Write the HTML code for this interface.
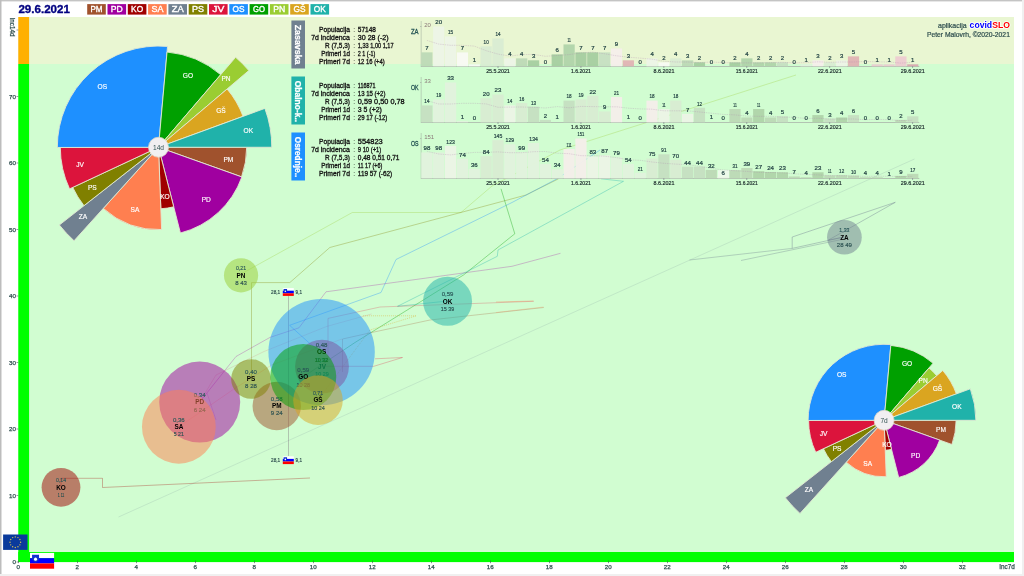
<!DOCTYPE html>
<html><head><meta charset="utf-8"><title>covidSLO</title>
<style>html,body{margin:0;padding:0;background:#fff;}svg{display:block;will-change:transform}text{font-family:"Liberation Sans",sans-serif;}</style>
</head><body>
<svg width="1024" height="576" viewBox="0 0 1024 576">
<rect x="0" y="0" width="1024" height="576" fill="#ffffff"/>
<rect x="18.3" y="17.0" width="995.7" height="47.0" fill="#e9f6d2"/>
<rect x="18.3" y="64" width="995.7" height="498.0" fill="#d1fdd1"/>
<rect x="18.3" y="17.0" width="10.8" height="47.0" fill="#ffb000"/>
<rect x="18.3" y="64" width="10.8" height="498.0" fill="#00ff00"/>
<rect x="18.3" y="552" width="995.7" height="10.1" fill="#00ff00"/>
<rect x="0" y="0" width="1022.5" height="1.4" fill="#c4c4c4"/>
<rect x="0" y="0" width="1.5" height="574" fill="#bdbdbd"/>
<rect x="1022" y="0" width="2" height="576" fill="#f0f0f0"/>
<rect x="0" y="574" width="1024" height="2" fill="#f0f0f0"/>
<text x="18.40" y="13.30" font-size="11.5" font-weight="bold" fill="#000080" textLength="51.5" lengthAdjust="spacingAndGlyphs" stroke="#000080" stroke-width="0.35">29.6.2021</text>
<rect x="87.20" y="4.1" width="18.6" height="10.5" fill="#a0522d"/>
<text x="96.50" y="12.10" font-size="8.3" text-anchor="middle" fill="#ffffff" textLength="12.0" lengthAdjust="spacingAndGlyphs" stroke="#ffffff" stroke-width="0.35">PM</text>
<rect x="107.50" y="4.1" width="18.6" height="10.5" fill="#a000a0"/>
<text x="116.80" y="12.10" font-size="8.3" text-anchor="middle" fill="#ffffff" textLength="12.0" lengthAdjust="spacingAndGlyphs" stroke="#ffffff" stroke-width="0.35">PD</text>
<rect x="127.80" y="4.1" width="18.6" height="10.5" fill="#a00000"/>
<text x="137.10" y="12.10" font-size="8.3" text-anchor="middle" fill="#ffffff" textLength="12.0" lengthAdjust="spacingAndGlyphs" stroke="#ffffff" stroke-width="0.35">KO</text>
<rect x="148.10" y="4.1" width="18.6" height="10.5" fill="#ff7f50"/>
<text x="157.40" y="12.10" font-size="8.3" text-anchor="middle" fill="#ffffff" textLength="12.0" lengthAdjust="spacingAndGlyphs" stroke="#ffffff" stroke-width="0.35">SA</text>
<rect x="168.40" y="4.1" width="18.6" height="10.5" fill="#708090"/>
<text x="177.70" y="12.10" font-size="8.3" text-anchor="middle" fill="#ffffff" textLength="12.0" lengthAdjust="spacingAndGlyphs" stroke="#ffffff" stroke-width="0.35">ZA</text>
<rect x="188.70" y="4.1" width="18.6" height="10.5" fill="#808000"/>
<text x="198.00" y="12.10" font-size="8.3" text-anchor="middle" fill="#ffffff" textLength="12.0" lengthAdjust="spacingAndGlyphs" stroke="#ffffff" stroke-width="0.35">PS</text>
<rect x="209.00" y="4.1" width="18.6" height="10.5" fill="#dc143c"/>
<text x="218.30" y="12.10" font-size="8.3" text-anchor="middle" fill="#ffffff" textLength="12.0" lengthAdjust="spacingAndGlyphs" stroke="#ffffff" stroke-width="0.35">JV</text>
<rect x="229.30" y="4.1" width="18.6" height="10.5" fill="#1e90ff"/>
<text x="238.60" y="12.10" font-size="8.3" text-anchor="middle" fill="#ffffff" textLength="12.0" lengthAdjust="spacingAndGlyphs" stroke="#ffffff" stroke-width="0.35">OS</text>
<rect x="249.60" y="4.1" width="18.6" height="10.5" fill="#00a000"/>
<text x="258.90" y="12.10" font-size="8.3" text-anchor="middle" fill="#ffffff" textLength="12.0" lengthAdjust="spacingAndGlyphs" stroke="#ffffff" stroke-width="0.35">GO</text>
<rect x="269.90" y="4.1" width="18.6" height="10.5" fill="#9acd32"/>
<text x="279.20" y="12.10" font-size="8.3" text-anchor="middle" fill="#ffffff" textLength="12.0" lengthAdjust="spacingAndGlyphs" stroke="#ffffff" stroke-width="0.35">PN</text>
<rect x="290.20" y="4.1" width="18.6" height="10.5" fill="#daa520"/>
<text x="299.50" y="12.10" font-size="8.3" text-anchor="middle" fill="#ffffff" textLength="12.0" lengthAdjust="spacingAndGlyphs" stroke="#ffffff" stroke-width="0.35">GŠ</text>
<rect x="310.50" y="4.1" width="18.6" height="10.5" fill="#20b2aa"/>
<text x="319.80" y="12.10" font-size="8.3" text-anchor="middle" fill="#ffffff" textLength="12.0" lengthAdjust="spacingAndGlyphs" stroke="#ffffff" stroke-width="0.35">OK</text>
<rect x="18.00" y="560.6" width="0.6" height="2.6" fill="#3a5a4a"/>
<text x="18.30" y="569.20" font-size="6.2" text-anchor="middle" fill="#2f4f4f" stroke="#2f4f4f" stroke-width="0.25">0</text>
<rect x="77.00" y="560.6" width="0.6" height="2.6" fill="#3a5a4a"/>
<text x="77.30" y="569.20" font-size="6.2" text-anchor="middle" fill="#2f4f4f" stroke="#2f4f4f" stroke-width="0.25">2</text>
<rect x="136.00" y="560.6" width="0.6" height="2.6" fill="#3a5a4a"/>
<text x="136.30" y="569.20" font-size="6.2" text-anchor="middle" fill="#2f4f4f" stroke="#2f4f4f" stroke-width="0.25">4</text>
<rect x="195.00" y="560.6" width="0.6" height="2.6" fill="#3a5a4a"/>
<text x="195.30" y="569.20" font-size="6.2" text-anchor="middle" fill="#2f4f4f" stroke="#2f4f4f" stroke-width="0.25">6</text>
<rect x="254.00" y="560.6" width="0.6" height="2.6" fill="#3a5a4a"/>
<text x="254.30" y="569.20" font-size="6.2" text-anchor="middle" fill="#2f4f4f" stroke="#2f4f4f" stroke-width="0.25">8</text>
<rect x="313.00" y="560.6" width="0.6" height="2.6" fill="#3a5a4a"/>
<text x="313.30" y="569.20" font-size="6.2" text-anchor="middle" fill="#2f4f4f" stroke="#2f4f4f" stroke-width="0.25">10</text>
<rect x="372.00" y="560.6" width="0.6" height="2.6" fill="#3a5a4a"/>
<text x="372.30" y="569.20" font-size="6.2" text-anchor="middle" fill="#2f4f4f" stroke="#2f4f4f" stroke-width="0.25">12</text>
<rect x="431.00" y="560.6" width="0.6" height="2.6" fill="#3a5a4a"/>
<text x="431.30" y="569.20" font-size="6.2" text-anchor="middle" fill="#2f4f4f" stroke="#2f4f4f" stroke-width="0.25">14</text>
<rect x="490.00" y="560.6" width="0.6" height="2.6" fill="#3a5a4a"/>
<text x="490.30" y="569.20" font-size="6.2" text-anchor="middle" fill="#2f4f4f" stroke="#2f4f4f" stroke-width="0.25">16</text>
<rect x="549.00" y="560.6" width="0.6" height="2.6" fill="#3a5a4a"/>
<text x="549.30" y="569.20" font-size="6.2" text-anchor="middle" fill="#2f4f4f" stroke="#2f4f4f" stroke-width="0.25">18</text>
<rect x="608.00" y="560.6" width="0.6" height="2.6" fill="#3a5a4a"/>
<text x="608.30" y="569.20" font-size="6.2" text-anchor="middle" fill="#2f4f4f" stroke="#2f4f4f" stroke-width="0.25">20</text>
<rect x="667.00" y="560.6" width="0.6" height="2.6" fill="#3a5a4a"/>
<text x="667.30" y="569.20" font-size="6.2" text-anchor="middle" fill="#2f4f4f" stroke="#2f4f4f" stroke-width="0.25">22</text>
<rect x="726.00" y="560.6" width="0.6" height="2.6" fill="#3a5a4a"/>
<text x="726.30" y="569.20" font-size="6.2" text-anchor="middle" fill="#2f4f4f" stroke="#2f4f4f" stroke-width="0.25">24</text>
<rect x="785.00" y="560.6" width="0.6" height="2.6" fill="#3a5a4a"/>
<text x="785.30" y="569.20" font-size="6.2" text-anchor="middle" fill="#2f4f4f" stroke="#2f4f4f" stroke-width="0.25">26</text>
<rect x="844.00" y="560.6" width="0.6" height="2.6" fill="#3a5a4a"/>
<text x="844.30" y="569.20" font-size="6.2" text-anchor="middle" fill="#2f4f4f" stroke="#2f4f4f" stroke-width="0.25">28</text>
<rect x="903.00" y="560.6" width="0.6" height="2.6" fill="#3a5a4a"/>
<text x="903.30" y="569.20" font-size="6.2" text-anchor="middle" fill="#2f4f4f" stroke="#2f4f4f" stroke-width="0.25">30</text>
<rect x="962.00" y="560.6" width="0.6" height="2.6" fill="#3a5a4a"/>
<text x="962.30" y="569.20" font-size="6.2" text-anchor="middle" fill="#2f4f4f" stroke="#2f4f4f" stroke-width="0.25">32</text>
<text x="1014.80" y="569.20" font-size="6.4" text-anchor="end" fill="#2f4f4f" textLength="15.5" lengthAdjust="spacingAndGlyphs" stroke="#2f4f4f" stroke-width="0.25">Inc7d</text>
<rect x="16.5" y="561.70" width="1.8" height="0.6" fill="#556"/>
<text x="15.90" y="564.30" font-size="6.2" text-anchor="end" fill="#2f4f4f" stroke="#2f4f4f" stroke-width="0.25">0</text>
<rect x="16.5" y="495.20" width="1.8" height="0.6" fill="#556"/>
<text x="15.90" y="497.80" font-size="6.2" text-anchor="end" fill="#2f4f4f" stroke="#2f4f4f" stroke-width="0.25">10</text>
<rect x="16.5" y="428.70" width="1.8" height="0.6" fill="#556"/>
<text x="15.90" y="431.30" font-size="6.2" text-anchor="end" fill="#2f4f4f" stroke="#2f4f4f" stroke-width="0.25">20</text>
<rect x="16.5" y="362.20" width="1.8" height="0.6" fill="#556"/>
<text x="15.90" y="364.80" font-size="6.2" text-anchor="end" fill="#2f4f4f" stroke="#2f4f4f" stroke-width="0.25">30</text>
<rect x="16.5" y="295.70" width="1.8" height="0.6" fill="#556"/>
<text x="15.90" y="298.30" font-size="6.2" text-anchor="end" fill="#2f4f4f" stroke="#2f4f4f" stroke-width="0.25">40</text>
<rect x="16.5" y="229.20" width="1.8" height="0.6" fill="#556"/>
<text x="15.90" y="231.80" font-size="6.2" text-anchor="end" fill="#2f4f4f" stroke="#2f4f4f" stroke-width="0.25">50</text>
<rect x="16.5" y="162.70" width="1.8" height="0.6" fill="#556"/>
<text x="15.90" y="165.30" font-size="6.2" text-anchor="end" fill="#2f4f4f" stroke="#2f4f4f" stroke-width="0.25">60</text>
<rect x="16.5" y="96.20" width="1.8" height="0.6" fill="#556"/>
<text x="15.90" y="98.80" font-size="6.2" text-anchor="end" fill="#2f4f4f" stroke="#2f4f4f" stroke-width="0.25">70</text>
<rect x="16.5" y="29.70" width="1.8" height="0.6" fill="#556"/>
<text transform="translate(10.4,17.6) rotate(90)" font-size="6.6" fill="#2f4f4f" stroke="#2f4f4f" stroke-width="0.25" textLength="18.8" lengthAdjust="spacingAndGlyphs">Inc14d</text>
<text x="966.70" y="28.00" font-size="6.6" text-anchor="end" fill="#2f4f4f" textLength="28.7" lengthAdjust="spacingAndGlyphs" stroke="#2f4f4f" stroke-width="0.2">aplikacija</text>
<text x="969.6" y="28.4" font-size="8.6" font-weight="bold" stroke="#ffffff" stroke-width="1.6" stroke-linejoin="round" fill="#fff" textLength="40.3" lengthAdjust="spacingAndGlyphs">covidSLO</text>
<text x="969.6" y="28.4" font-size="8.6" font-weight="bold" textLength="40.3" lengthAdjust="spacingAndGlyphs"><tspan fill="#0000ff">covid</tspan><tspan fill="#ff0000">SLO</tspan></text>
<text x="1009.90" y="37.20" font-size="6.6" text-anchor="end" fill="#2f4f4f" textLength="83.0" lengthAdjust="spacingAndGlyphs" stroke="#2f4f4f" stroke-width="0.2">Peter Malovrh, ©2020-2021</text>
<polyline points="118.5,517.0 914.5,159.0" fill="none" stroke="#708090" stroke-opacity="0.28" stroke-width="0.6"/>
<polyline points="844.0,237.0 828.2,240.2 895.3,202.3 792.2,237.0 792.2,248.4 844.0,237.0" fill="none" stroke="#708090" stroke-opacity="0.7" stroke-width="0.6"/>
<polyline points="792.2,248.4 689.5,260.0" fill="none" stroke="#708090" stroke-opacity="0.6" stroke-width="0.6"/>
<polyline points="844.0,239.0 741.0,260.5" fill="none" stroke="#708090" stroke-opacity="0.6" stroke-width="0.6"/>
<polyline points="61.0,487.3 61.0,478.3 102.5,478.3 102.5,487.5 310.0,478.0" fill="none" stroke="#a00000" stroke-opacity="0.5" stroke-width="0.6"/>
<polyline points="241.0,274.0 352.3,212.5 461.0,212.5 492.0,186.0 560.0,150.0 796.0,75.0" fill="none" stroke="#9acd32" stroke-opacity="0.5" stroke-width="0.6"/>
<polyline points="251.5,379.0 251.5,282.6 289.8,282.6 329.8,247.5 512.0,198.8 526.0,195.0 558.5,178.8" fill="none" stroke="#808000" stroke-opacity="0.55" stroke-width="0.6"/>
<polyline points="321.6,352.0 309.0,342.8 289.6,325.3 381.0,292.5 396.0,259.5 512.0,202.5 557.0,178.8 600.0,150.0" fill="none" stroke="#1e90ff" stroke-opacity="0.6" stroke-width="0.6"/>
<polyline points="199.7,402.0 236.0,356.5 270.0,337.4 299.0,327.8 326.0,291.8 512.0,266.3 560.5,253.3" fill="none" stroke="#a000a0" stroke-opacity="0.45" stroke-width="0.6"/>
<polyline points="207.0,393.0 216.0,420.0" fill="none" stroke="#a000a0" stroke-opacity="0.25" stroke-width="0.6"/>
<polyline points="303.0,377.0 355.0,342.5 463.5,275.0 512.0,236.0 514.8,233.8 501.0,188.8" fill="none" stroke="#00a000" stroke-opacity="0.6" stroke-width="0.6"/>
<polyline points="447.5,301.0 397.5,306.3 470.0,270.0 497.3,256.3 498.0,250.0 623.5,181.3 601.0,178.8" fill="none" stroke="#20b2aa" stroke-opacity="0.6" stroke-width="0.6"/>
<polyline points="322.0,366.6 328.0,360.0 328.0,318.4 380.0,307.0 533.8,301.3" fill="none" stroke="#dc143c" stroke-opacity="0.4" stroke-width="0.6"/>
<polyline points="199.7,402.0 216.0,375.0 264.0,351.5 326.5,326.5 371.5,314.0" fill="none" stroke="#dc143c" stroke-opacity="0.22" stroke-width="0.6"/>
<polyline points="342.5,372.0 342.5,339.0 370.3,332.8 430.0,320.0 543.8,307.5" fill="none" stroke="#a0522d" stroke-opacity="0.45" stroke-width="0.6"/>
<polyline points="322.0,366.3 373.8,366.3 402.5,357.5 375.0,358.8" fill="none" stroke="#dc143c" stroke-opacity="0.45" stroke-width="0.6"/>
<polyline points="496.0,302.0 533.5,301.0" fill="none" stroke="#ff7f50" stroke-opacity="0.6" stroke-width="0.6"/>
<polyline points="496.0,312.5 543.5,307.0" fill="none" stroke="#ff7f50" stroke-opacity="0.4" stroke-width="0.6"/>
<polyline points="318.0,400.0 370.0,330.0 416.3,315.8 362.5,315.8" fill="none" stroke="#daa520" stroke-opacity="0.7" stroke-width="0.6" stroke-dasharray="1 1"/>
<polyline points="178.9,426.8 233.4,389.4 271.6,365.0 342.0,339.0" fill="none" stroke="#ff7f50" stroke-opacity="0.35" stroke-width="0.6"/>
<rect x="288.2" y="296" width="0.7" height="160" fill="#7a6a7a" fill-opacity="0.55"/>
<rect x="282.8" y="288.1" width="11" height="2.60" fill="#ffffff"/>
<rect x="282.8" y="290.70" width="11" height="2.60" fill="#0000ff"/>
<rect x="282.8" y="293.30" width="11" height="2.60" fill="#ff0000"/>
<path d="M283.61,288.96 H287.05 V291.53 L285.33,292.90 L283.61,291.53 Z" fill="#1030d0"/>
<circle cx="285.33" cy="291.19" r="0.77" fill="#ffffff"/>
<text x="280.20" y="294.10" font-size="6.2" text-anchor="end" fill="#2f4f4f" textLength="9.2" lengthAdjust="spacingAndGlyphs" stroke="#2f4f4f" stroke-width="0.2">28,1</text>
<text x="295.60" y="294.10" font-size="6.2" fill="#2f4f4f" textLength="6.4" lengthAdjust="spacingAndGlyphs" stroke="#2f4f4f" stroke-width="0.2">9,1</text>
<rect x="282.8" y="456.3" width="11" height="2.60" fill="#ffffff"/>
<rect x="282.8" y="458.90" width="11" height="2.60" fill="#0000ff"/>
<rect x="282.8" y="461.50" width="11" height="2.60" fill="#ff0000"/>
<path d="M283.61,457.16 H287.05 V459.73 L285.33,461.10 L283.61,459.73 Z" fill="#1030d0"/>
<circle cx="285.33" cy="459.39" r="0.77" fill="#ffffff"/>
<text x="280.20" y="462.30" font-size="6.2" text-anchor="end" fill="#2f4f4f" textLength="9.2" lengthAdjust="spacingAndGlyphs" stroke="#2f4f4f" stroke-width="0.2">28,1</text>
<text x="295.60" y="462.30" font-size="6.2" fill="#2f4f4f" textLength="6.4" lengthAdjust="spacingAndGlyphs" stroke="#2f4f4f" stroke-width="0.2">9,1</text>
<circle cx="276.75" cy="406" r="24.2" fill="#a0522d" fill-opacity="0.5"/>
<text x="276.75" y="401.00" font-size="6" text-anchor="middle" fill="#2a5858" textLength="11.8" lengthAdjust="spacingAndGlyphs" stroke="#2a5858" stroke-width="0.15">0,58</text>
<text x="276.75" y="408.30" font-size="6.4" text-anchor="middle" font-weight="bold" fill="#000000">PM</text>
<text x="276.75" y="415.40" font-size="6" text-anchor="middle" fill="#2a5050" textLength="11.8" lengthAdjust="spacingAndGlyphs" stroke="#2a5050" stroke-width="0.15">9 24</text>
<circle cx="199.7" cy="402.1" r="40.5" fill="#a000a0" fill-opacity="0.5"/>
<text x="199.70" y="397.10" font-size="6" text-anchor="middle" fill="#2a5858" textLength="11.8" lengthAdjust="spacingAndGlyphs" stroke="#2a5858" stroke-width="0.15">0,34</text>
<text x="199.70" y="404.40" font-size="6.4" text-anchor="middle" font-weight="bold" fill="#000000">PD</text>
<text x="199.70" y="411.50" font-size="6" text-anchor="middle" fill="#2a5050" textLength="11.8" lengthAdjust="spacingAndGlyphs" stroke="#2a5050" stroke-width="0.15">6 24</text>
<circle cx="61" cy="487.3" r="19.4" fill="#a00000" fill-opacity="0.5"/>
<text x="61.00" y="482.30" font-size="6" text-anchor="middle" fill="#2a5858" textLength="10.1" lengthAdjust="spacingAndGlyphs" stroke="#2a5858" stroke-width="0.15">0,14</text>
<text x="61.00" y="489.60" font-size="6.4" text-anchor="middle" font-weight="bold" fill="#000000">KO</text>
<text x="61.00" y="496.70" font-size="6" text-anchor="middle" fill="#2a5050" textLength="6.7" lengthAdjust="spacingAndGlyphs" stroke="#2a5050" stroke-width="0.15">1 11</text>
<circle cx="178.85" cy="426.75" r="36.9" fill="#ff7f50" fill-opacity="0.5"/>
<text x="178.85" y="421.75" font-size="6" text-anchor="middle" fill="#2a5858" textLength="11.8" lengthAdjust="spacingAndGlyphs" stroke="#2a5858" stroke-width="0.15">0,36</text>
<text x="178.85" y="429.05" font-size="6.4" text-anchor="middle" font-weight="bold" fill="#000000">SA</text>
<text x="178.85" y="436.15" font-size="6" text-anchor="middle" fill="#2a5050" textLength="10.1" lengthAdjust="spacingAndGlyphs" stroke="#2a5050" stroke-width="0.15">5 21</text>
<circle cx="844.4" cy="237.25" r="17.35" fill="#708090" fill-opacity="0.5"/>
<text x="844.40" y="232.25" font-size="6" text-anchor="middle" fill="#2a5858" textLength="10.1" lengthAdjust="spacingAndGlyphs" stroke="#2a5858" stroke-width="0.15">1,33</text>
<text x="844.40" y="239.55" font-size="6.4" text-anchor="middle" font-weight="bold" fill="#000000">ZA</text>
<text x="844.40" y="246.65" font-size="6" text-anchor="middle" fill="#2a5050" textLength="15.2" lengthAdjust="spacingAndGlyphs" stroke="#2a5050" stroke-width="0.15">28 49</text>
<circle cx="251" cy="379" r="19.85" fill="#808000" fill-opacity="0.5"/>
<text x="251.00" y="374.00" font-size="6" text-anchor="middle" fill="#2a5858" textLength="11.8" lengthAdjust="spacingAndGlyphs" stroke="#2a5858" stroke-width="0.15">0,40</text>
<text x="251.00" y="381.30" font-size="6.4" text-anchor="middle" font-weight="bold" fill="#000000">PS</text>
<text x="251.00" y="388.40" font-size="6" text-anchor="middle" fill="#2a5050" textLength="11.8" lengthAdjust="spacingAndGlyphs" stroke="#2a5050" stroke-width="0.15">8 28</text>
<circle cx="322" cy="366.6" r="26.9" fill="#dc143c" fill-opacity="0.5"/>
<text x="322.00" y="361.60" font-size="6" text-anchor="middle" fill="#2a5858" textLength="11.8" lengthAdjust="spacingAndGlyphs" stroke="#2a5858" stroke-width="0.15">0,32</text>
<text x="322.00" y="368.90" font-size="6.4" text-anchor="middle" font-weight="bold" fill="#000000">JV</text>
<text x="322.00" y="376.00" font-size="6" text-anchor="middle" fill="#2a5050" textLength="13.5" lengthAdjust="spacingAndGlyphs" stroke="#2a5050" stroke-width="0.15">10 29</text>
<circle cx="321.6" cy="352.1" r="53.2" fill="#1e90ff" fill-opacity="0.5"/>
<text x="321.60" y="347.10" font-size="6" text-anchor="middle" fill="#2a5858" textLength="11.8" lengthAdjust="spacingAndGlyphs" stroke="#2a5858" stroke-width="0.15">0,48</text>
<text x="321.60" y="354.40" font-size="6.4" text-anchor="middle" font-weight="bold" fill="#000000">OS</text>
<text x="321.60" y="361.50" font-size="6" text-anchor="middle" fill="#2a5050" textLength="13.5" lengthAdjust="spacingAndGlyphs" stroke="#2a5050" stroke-width="0.15">10 32</text>
<circle cx="303.25" cy="377.1" r="33" fill="#00a000" fill-opacity="0.5"/>
<text x="303.25" y="372.10" font-size="6" text-anchor="middle" fill="#2a5858" textLength="11.8" lengthAdjust="spacingAndGlyphs" stroke="#2a5858" stroke-width="0.15">0,59</text>
<text x="303.25" y="379.40" font-size="6.4" text-anchor="middle" font-weight="bold" fill="#000000">GO</text>
<text x="303.25" y="386.50" font-size="6" text-anchor="middle" fill="#2a5050" textLength="13.5" lengthAdjust="spacingAndGlyphs" stroke="#2a5050" stroke-width="0.15">10 28</text>
<circle cx="241.05" cy="275.3" r="17.1" fill="#9acd32" fill-opacity="0.5"/>
<text x="241.05" y="270.30" font-size="6" text-anchor="middle" fill="#2a5858" textLength="10.1" lengthAdjust="spacingAndGlyphs" stroke="#2a5858" stroke-width="0.15">0,21</text>
<text x="241.05" y="277.60" font-size="6.4" text-anchor="middle" font-weight="bold" fill="#000000">PN</text>
<text x="241.05" y="284.70" font-size="6" text-anchor="middle" fill="#2a5050" textLength="11.8" lengthAdjust="spacingAndGlyphs" stroke="#2a5050" stroke-width="0.15">8 43</text>
<circle cx="318" cy="400.15" r="24.8" fill="#daa520" fill-opacity="0.5"/>
<text x="318.00" y="395.15" font-size="6" text-anchor="middle" fill="#2a5858" textLength="10.1" lengthAdjust="spacingAndGlyphs" stroke="#2a5858" stroke-width="0.15">0,71</text>
<text x="318.00" y="402.45" font-size="6.4" text-anchor="middle" font-weight="bold" fill="#000000">GŠ</text>
<text x="318.00" y="409.55" font-size="6" text-anchor="middle" fill="#2a5050" textLength="13.5" lengthAdjust="spacingAndGlyphs" stroke="#2a5050" stroke-width="0.15">10 24</text>
<circle cx="447.55" cy="301.25" r="24.5" fill="#20b2aa" fill-opacity="0.5"/>
<text x="447.55" y="296.25" font-size="6" text-anchor="middle" fill="#2a5858" textLength="11.8" lengthAdjust="spacingAndGlyphs" stroke="#2a5858" stroke-width="0.15">0,59</text>
<text x="447.55" y="303.55" font-size="6.4" text-anchor="middle" font-weight="bold" fill="#000000">OK</text>
<text x="447.55" y="310.65" font-size="6" text-anchor="middle" fill="#2a5050" textLength="13.5" lengthAdjust="spacingAndGlyphs" stroke="#2a5050" stroke-width="0.15">15 39</text>
<path d="M158.50,147.25 L246.70,147.25 A88.20,88.20 0 0 1 241.58,176.86 Z" fill="#a0522d" stroke="#e2e9d2" stroke-width="0.9" stroke-linejoin="round"/>
<path d="M158.50,147.25 L241.87,176.96 A88.50,88.50 0 0 1 180.41,233.00 Z" fill="#a000a0" stroke="#e2e9d2" stroke-width="0.9" stroke-linejoin="round"/>
<path d="M158.50,147.25 L173.72,206.84 A61.50,61.50 0 0 1 160.84,208.71 Z" fill="#a00000" stroke="#e2e9d2" stroke-width="0.9" stroke-linejoin="round"/>
<path d="M158.50,147.25 L161.64,229.59 A82.40,82.40 0 0 1 103.27,208.40 Z" fill="#ff7f50" stroke="#e2e9d2" stroke-width="0.9" stroke-linejoin="round"/>
<path d="M158.50,147.25 L74.05,240.76 A126.00,126.00 0 0 1 59.35,225.00 Z" fill="#708090" stroke="#e2e9d2" stroke-width="0.9" stroke-linejoin="round"/>
<path d="M158.50,147.25 L83.98,205.69 A94.70,94.70 0 0 1 72.73,187.40 Z" fill="#808000" stroke="#e2e9d2" stroke-width="0.9" stroke-linejoin="round"/>
<path d="M158.50,147.25 L69.56,188.88 A98.20,98.20 0 0 1 60.30,147.47 Z" fill="#dc143c" stroke="#e2e9d2" stroke-width="0.9" stroke-linejoin="round"/>
<path d="M158.50,147.25 L57.30,147.48 A101.20,101.20 0 0 1 167.54,46.45 Z" fill="#1e90ff" stroke="#e2e9d2" stroke-width="0.9" stroke-linejoin="round"/>
<path d="M158.50,147.25 L167.04,52.03 A95.60,95.60 0 0 1 220.71,74.66 Z" fill="#00a000" stroke="#e2e9d2" stroke-width="0.9" stroke-linejoin="round"/>
<path d="M158.50,147.25 L235.61,57.27 A118.50,118.50 0 0 1 248.84,70.56 Z" fill="#9acd32" stroke="#e2e9d2" stroke-width="0.9" stroke-linejoin="round"/>
<path d="M158.50,147.25 L227.11,89.00 A90.00,90.00 0 0 1 243.04,116.37 Z" fill="#daa520" stroke="#e2e9d2" stroke-width="0.9" stroke-linejoin="round"/>
<path d="M158.50,147.25 L264.92,108.38 A113.30,113.30 0 0 1 271.80,147.25 Z" fill="#20b2aa" stroke="#e2e9d2" stroke-width="0.9" stroke-linejoin="round"/>
<text x="228.37" y="161.55" font-size="6.6" text-anchor="middle" fill="#ffffff" stroke="#ffffff" stroke-width="0.15">PM</text>
<text x="206.22" y="202.45" font-size="6.6" text-anchor="middle" fill="#ffffff" stroke="#ffffff" stroke-width="0.15">PD</text>
<text x="164.97" y="198.77" font-size="6.6" text-anchor="middle" fill="#ffffff" stroke="#ffffff" stroke-width="0.15">KO</text>
<text x="134.97" y="212.24" font-size="6.6" text-anchor="middle" fill="#ffffff" stroke="#ffffff" stroke-width="0.15">SA</text>
<text x="82.98" y="219.14" font-size="6.6" text-anchor="middle" fill="#ffffff" stroke="#ffffff" stroke-width="0.15">ZA</text>
<text x="92.30" y="189.64" font-size="6.6" text-anchor="middle" fill="#ffffff" stroke="#ffffff" stroke-width="0.15">PS</text>
<text x="79.98" y="166.76" font-size="6.6" text-anchor="middle" fill="#ffffff" stroke="#ffffff" stroke-width="0.15">JV</text>
<text x="102.28" y="88.77" font-size="6.6" text-anchor="middle" fill="#ffffff" stroke="#ffffff" stroke-width="0.15">OS</text>
<text x="187.96" y="77.82" font-size="6.6" text-anchor="middle" fill="#ffffff" stroke="#ffffff" stroke-width="0.15">GO</text>
<text x="226.00" y="81.47" font-size="6.6" text-anchor="middle" fill="#ffffff" stroke="#ffffff" stroke-width="0.15">PN</text>
<text x="220.96" y="112.59" font-size="6.6" text-anchor="middle" fill="#ffffff" stroke="#ffffff" stroke-width="0.15">GŠ</text>
<text x="248.39" y="133.32" font-size="6.6" text-anchor="middle" fill="#ffffff" stroke="#ffffff" stroke-width="0.15">OK</text>
<circle cx="158.5" cy="147.25" r="10" fill="#f1eff1" stroke="#e0d8c8" stroke-width="0.8"/>
<text x="158.50" y="149.65" font-size="6.6" text-anchor="middle" fill="#2f4f4f">14d</text>
<path d="M884.10,420.30 L956.10,420.30 A72.00,72.00 0 0 1 951.92,444.47 Z" fill="#a0522d" stroke="#e2e9d2" stroke-width="0.9" stroke-linejoin="round"/>
<path d="M884.10,420.30 L939.68,440.10 A59.00,59.00 0 0 1 898.70,477.46 Z" fill="#a000a0" stroke="#e2e9d2" stroke-width="0.9" stroke-linejoin="round"/>
<path d="M884.10,420.30 L891.53,449.37 A30.00,30.00 0 0 1 885.24,450.28 Z" fill="#a00000" stroke="#e2e9d2" stroke-width="0.9" stroke-linejoin="round"/>
<path d="M884.10,420.30 L886.25,476.76 A56.50,56.50 0 0 1 846.23,462.23 Z" fill="#ff7f50" stroke="#e2e9d2" stroke-width="0.9" stroke-linejoin="round"/>
<path d="M884.10,420.30 L799.99,513.44 A125.50,125.50 0 0 1 785.34,497.74 Z" fill="#708090" stroke="#e2e9d2" stroke-width="0.9" stroke-linejoin="round"/>
<path d="M884.10,420.30 L831.38,461.64 A67.00,67.00 0 0 1 823.42,448.71 Z" fill="#808000" stroke="#e2e9d2" stroke-width="0.9" stroke-linejoin="round"/>
<path d="M884.10,420.30 L815.72,452.31 A75.50,75.50 0 0 1 808.60,420.47 Z" fill="#dc143c" stroke="#e2e9d2" stroke-width="0.9" stroke-linejoin="round"/>
<path d="M884.10,420.30 L808.10,420.47 A76.00,76.00 0 0 1 890.89,344.60 Z" fill="#1e90ff" stroke="#e2e9d2" stroke-width="0.9" stroke-linejoin="round"/>
<path d="M884.10,420.30 L890.82,345.40 A75.20,75.20 0 0 1 933.04,363.20 Z" fill="#00a000" stroke="#e2e9d2" stroke-width="0.9" stroke-linejoin="round"/>
<path d="M884.10,420.30 L929.00,367.91 A69.00,69.00 0 0 1 936.70,375.64 Z" fill="#9acd32" stroke="#e2e9d2" stroke-width="0.9" stroke-linejoin="round"/>
<path d="M884.10,420.30 L942.80,370.47 A77.00,77.00 0 0 1 956.43,393.88 Z" fill="#daa520" stroke="#e2e9d2" stroke-width="0.9" stroke-linejoin="round"/>
<path d="M884.10,420.30 L970.33,388.80 A91.80,91.80 0 0 1 975.90,420.30 Z" fill="#20b2aa" stroke="#e2e9d2" stroke-width="0.9" stroke-linejoin="round"/>
<text x="941.01" y="432.36" font-size="6.6" text-anchor="middle" fill="#ffffff" stroke="#ffffff" stroke-width="0.15">PM</text>
<text x="915.68" y="457.80" font-size="6.6" text-anchor="middle" fill="#ffffff" stroke="#ffffff" stroke-width="0.15">PD</text>
<text x="886.90" y="446.51" font-size="6.6" text-anchor="middle" fill="#ffffff" stroke="#ffffff" stroke-width="0.15">KO</text>
<text x="867.75" y="465.52" font-size="6.6" text-anchor="middle" fill="#ffffff" stroke="#ffffff" stroke-width="0.15">SA</text>
<text x="808.88" y="491.91" font-size="6.6" text-anchor="middle" fill="#ffffff" stroke="#ffffff" stroke-width="0.15">ZA</text>
<text x="837.06" y="450.90" font-size="6.6" text-anchor="middle" fill="#ffffff" stroke="#ffffff" stroke-width="0.15">PS</text>
<text x="823.57" y="435.78" font-size="6.6" text-anchor="middle" fill="#ffffff" stroke="#ffffff" stroke-width="0.15">JV</text>
<text x="841.71" y="376.90" font-size="6.6" text-anchor="middle" fill="#ffffff" stroke="#ffffff" stroke-width="0.15">OS</text>
<text x="907.12" y="366.13" font-size="6.6" text-anchor="middle" fill="#ffffff" stroke="#ffffff" stroke-width="0.15">GO</text>
<text x="923.11" y="382.87" font-size="6.6" text-anchor="middle" fill="#ffffff" stroke="#ffffff" stroke-width="0.15">PN</text>
<text x="937.44" y="390.95" font-size="6.6" text-anchor="middle" fill="#ffffff" stroke="#ffffff" stroke-width="0.15">GŠ</text>
<text x="956.80" y="409.41" font-size="6.6" text-anchor="middle" fill="#ffffff" stroke="#ffffff" stroke-width="0.15">OK</text>
<circle cx="884.1" cy="420.3" r="10" fill="#f1eff1" stroke="#e0d8c8" stroke-width="0.8"/>
<text x="884.10" y="422.70" font-size="6.6" text-anchor="middle" fill="#2f4f4f">7d</text>
<rect x="291.4" y="20.5" width="13.6" height="48" fill="#708090"/>
<text transform="translate(295.4,24.7) rotate(90)" font-size="8.8" font-weight="bold" fill="#ffffff" stroke="#ffffff" stroke-width="0.25" textLength="39.8" lengthAdjust="spacingAndGlyphs">Zasavska</text>
<text x="349.90" y="32.05" font-size="6.6" text-anchor="end" fill="#141414" textLength="30.8" lengthAdjust="spacingAndGlyphs" stroke="#141414" stroke-width="0.3">Populacija</text>
<text x="353.30" y="32.05" font-size="6.6" fill="#141414">:</text>
<text x="357.80" y="32.05" font-size="6.6" fill="#141414" textLength="18.1" lengthAdjust="spacingAndGlyphs" stroke="#141414" stroke-width="0.3">57148</text>
<text x="349.90" y="40.05" font-size="6.6" text-anchor="end" fill="#141414" textLength="38.7" lengthAdjust="spacingAndGlyphs" stroke="#141414" stroke-width="0.3">7d incidenca</text>
<text x="353.30" y="40.05" font-size="6.6" fill="#141414">:</text>
<text x="357.80" y="40.05" font-size="6.6" fill="#141414" textLength="30.8" lengthAdjust="spacingAndGlyphs" stroke="#141414" stroke-width="0.3">30 28 (-2)</text>
<text x="349.90" y="48.05" font-size="6.6" text-anchor="end" fill="#141414" textLength="24.9" lengthAdjust="spacingAndGlyphs" stroke="#141414" stroke-width="0.3">R (7,5,3)</text>
<text x="353.30" y="48.05" font-size="6.6" fill="#141414">:</text>
<text x="357.80" y="48.05" font-size="6.6" fill="#141414" textLength="35.8" lengthAdjust="spacingAndGlyphs" stroke="#141414" stroke-width="0.3">1,33 1,00 1,17</text>
<text x="349.90" y="56.05" font-size="6.6" text-anchor="end" fill="#141414" textLength="28.7" lengthAdjust="spacingAndGlyphs" stroke="#141414" stroke-width="0.3">Primeri 1d</text>
<text x="353.30" y="56.05" font-size="6.6" fill="#141414">:</text>
<text x="357.80" y="56.05" font-size="6.6" fill="#141414" textLength="17.5" lengthAdjust="spacingAndGlyphs" stroke="#141414" stroke-width="0.3">2 1 (-1)</text>
<text x="349.90" y="64.05" font-size="6.6" text-anchor="end" fill="#141414" textLength="30.8" lengthAdjust="spacingAndGlyphs" stroke="#141414" stroke-width="0.3">Primeri 7d</text>
<text x="353.30" y="64.05" font-size="6.6" fill="#141414">:</text>
<text x="357.80" y="64.05" font-size="6.6" fill="#141414" textLength="27.0" lengthAdjust="spacingAndGlyphs" stroke="#141414" stroke-width="0.3">12 16 (+4)</text>
<text x="410.90" y="33.80" font-size="6.6" fill="#245454" textLength="7.6" lengthAdjust="spacingAndGlyphs" stroke="#245454" stroke-width="0.3">ZA</text>
<rect x="291.4" y="76.5" width="13.6" height="48" fill="#20b2aa"/>
<text transform="translate(295.4,80.7) rotate(90)" font-size="8.8" font-weight="bold" fill="#ffffff" stroke="#ffffff" stroke-width="0.25" textLength="41.5" lengthAdjust="spacingAndGlyphs">Obalno-k..</text>
<text x="349.90" y="88.05" font-size="6.6" text-anchor="end" fill="#141414" textLength="30.8" lengthAdjust="spacingAndGlyphs" stroke="#141414" stroke-width="0.3">Populacija</text>
<text x="353.30" y="88.05" font-size="6.6" fill="#141414">:</text>
<text x="357.80" y="88.05" font-size="6.6" fill="#141414" textLength="17.7" lengthAdjust="spacingAndGlyphs" stroke="#141414" stroke-width="0.3">116871</text>
<text x="349.90" y="96.05" font-size="6.6" text-anchor="end" fill="#141414" textLength="38.7" lengthAdjust="spacingAndGlyphs" stroke="#141414" stroke-width="0.3">7d incidenca</text>
<text x="353.30" y="96.05" font-size="6.6" fill="#141414">:</text>
<text x="357.80" y="96.05" font-size="6.6" fill="#141414" textLength="27.7" lengthAdjust="spacingAndGlyphs" stroke="#141414" stroke-width="0.3">13 15 (+2)</text>
<text x="349.90" y="104.05" font-size="6.6" text-anchor="end" fill="#141414" textLength="24.9" lengthAdjust="spacingAndGlyphs" stroke="#141414" stroke-width="0.3">R (7,5,3)</text>
<text x="353.30" y="104.05" font-size="6.6" fill="#141414">:</text>
<text x="357.80" y="104.05" font-size="6.6" fill="#141414" textLength="46.9" lengthAdjust="spacingAndGlyphs" stroke="#141414" stroke-width="0.3">0,59 0,50 0,78</text>
<text x="349.90" y="112.05" font-size="6.6" text-anchor="end" fill="#141414" textLength="28.7" lengthAdjust="spacingAndGlyphs" stroke="#141414" stroke-width="0.3">Primeri 1d</text>
<text x="353.30" y="112.05" font-size="6.6" fill="#141414">:</text>
<text x="357.80" y="112.05" font-size="6.6" fill="#141414" textLength="24.1" lengthAdjust="spacingAndGlyphs" stroke="#141414" stroke-width="0.3">3 5 (+2)</text>
<text x="349.90" y="120.05" font-size="6.6" text-anchor="end" fill="#141414" textLength="30.8" lengthAdjust="spacingAndGlyphs" stroke="#141414" stroke-width="0.3">Primeri 7d</text>
<text x="353.30" y="120.05" font-size="6.6" fill="#141414">:</text>
<text x="357.80" y="120.05" font-size="6.6" fill="#141414" textLength="29.5" lengthAdjust="spacingAndGlyphs" stroke="#141414" stroke-width="0.3">29 17 (-12)</text>
<text x="410.90" y="89.80" font-size="6.6" fill="#245454" textLength="7.6" lengthAdjust="spacingAndGlyphs" stroke="#245454" stroke-width="0.3">OK</text>
<rect x="291.4" y="132.5" width="13.6" height="48" fill="#1e90ff"/>
<text transform="translate(295.4,136.7) rotate(90)" font-size="8.8" font-weight="bold" fill="#ffffff" stroke="#ffffff" stroke-width="0.25" textLength="40.6" lengthAdjust="spacingAndGlyphs">Osrednje..</text>
<text x="349.90" y="144.05" font-size="6.6" text-anchor="end" fill="#141414" textLength="30.8" lengthAdjust="spacingAndGlyphs" stroke="#141414" stroke-width="0.3">Populacija</text>
<text x="353.30" y="144.05" font-size="6.6" fill="#141414">:</text>
<text x="357.80" y="144.05" font-size="6.6" fill="#141414" textLength="24.9" lengthAdjust="spacingAndGlyphs" stroke="#141414" stroke-width="0.3">554823</text>
<text x="349.90" y="152.05" font-size="6.6" text-anchor="end" fill="#141414" textLength="38.7" lengthAdjust="spacingAndGlyphs" stroke="#141414" stroke-width="0.3">7d incidenca</text>
<text x="353.30" y="152.05" font-size="6.6" fill="#141414">:</text>
<text x="357.80" y="152.05" font-size="6.6" fill="#141414" textLength="23.4" lengthAdjust="spacingAndGlyphs" stroke="#141414" stroke-width="0.3">9 10 (+1)</text>
<text x="349.90" y="160.05" font-size="6.6" text-anchor="end" fill="#141414" textLength="24.9" lengthAdjust="spacingAndGlyphs" stroke="#141414" stroke-width="0.3">R (7,5,3)</text>
<text x="353.30" y="160.05" font-size="6.6" fill="#141414">:</text>
<text x="357.80" y="160.05" font-size="6.6" fill="#141414" textLength="41.7" lengthAdjust="spacingAndGlyphs" stroke="#141414" stroke-width="0.3">0,48 0,51 0,71</text>
<text x="349.90" y="168.05" font-size="6.6" text-anchor="end" fill="#141414" textLength="28.7" lengthAdjust="spacingAndGlyphs" stroke="#141414" stroke-width="0.3">Primeri 1d</text>
<text x="353.30" y="168.05" font-size="6.6" fill="#141414">:</text>
<text x="357.80" y="168.05" font-size="6.6" fill="#141414" textLength="24.5" lengthAdjust="spacingAndGlyphs" stroke="#141414" stroke-width="0.3">11 17 (+6)</text>
<text x="349.90" y="176.05" font-size="6.6" text-anchor="end" fill="#141414" textLength="30.8" lengthAdjust="spacingAndGlyphs" stroke="#141414" stroke-width="0.3">Primeri 7d</text>
<text x="353.30" y="176.05" font-size="6.6" fill="#141414">:</text>
<text x="357.80" y="176.05" font-size="6.6" fill="#141414" textLength="34.4" lengthAdjust="spacingAndGlyphs" stroke="#141414" stroke-width="0.3">119 57 (-62)</text>
<text x="410.90" y="145.80" font-size="6.6" fill="#245454" textLength="7.6" lengthAdjust="spacingAndGlyphs" stroke="#245454" stroke-width="0.3">OS</text>
<rect x="420.8" y="21.0" width="0.6" height="45.3" fill="#9aa89a" fill-opacity="0.8"/>
<rect x="420.8" y="66.1" width="498.5" height="0.9" fill="#a8b0a8" fill-opacity="0.85"/>
<rect x="420.0" y="26.2" width="1.4" height="0.6" fill="#9aa89a"/>
<text x="424.20" y="26.70" font-size="6" fill="#8a7878">20</text>
<rect x="421.30" y="52.37" width="11.2" height="13.93" fill="#bcdab6" fill-opacity="0.96"/>
<rect x="433.15" y="26.50" width="11.2" height="39.80" fill="#ecf5e6" fill-opacity="0.96"/>
<rect x="445.00" y="36.45" width="11.2" height="29.85" fill="#ecf5e6" fill-opacity="0.96"/>
<rect x="456.85" y="52.37" width="11.2" height="13.93" fill="#f8faf4" fill-opacity="0.96"/>
<rect x="468.70" y="64.31" width="11.2" height="1.99" fill="#f8faf4" fill-opacity="0.96"/>
<rect x="480.55" y="46.40" width="11.2" height="19.90" fill="#d8ecd2" fill-opacity="0.96"/>
<rect x="492.40" y="38.44" width="11.2" height="27.86" fill="#d8ecd2" fill-opacity="0.96"/>
<rect x="504.25" y="58.34" width="11.2" height="7.96" fill="#ecf5e6" fill-opacity="0.96"/>
<rect x="516.10" y="58.34" width="11.2" height="7.96" fill="#bcdab6" fill-opacity="0.96"/>
<rect x="527.95" y="60.33" width="11.2" height="5.97" fill="#a6cea0" fill-opacity="0.96"/>
<rect x="551.65" y="54.36" width="11.2" height="11.94" fill="#a6cea0" fill-opacity="0.96"/>
<rect x="563.50" y="44.41" width="11.2" height="21.89" fill="#b0d4aa" fill-opacity="0.96"/>
<rect x="575.35" y="52.37" width="11.2" height="13.93" fill="#a6cea0" fill-opacity="0.96"/>
<rect x="587.20" y="52.37" width="11.2" height="13.93" fill="#a6cea0" fill-opacity="0.96"/>
<rect x="599.05" y="52.37" width="11.2" height="13.93" fill="#c6e0c2" fill-opacity="0.96"/>
<rect x="610.90" y="48.39" width="11.2" height="17.91" fill="#f5eeea" fill-opacity="0.96"/>
<rect x="622.75" y="60.33" width="11.2" height="5.97" fill="#e0b4b4" fill-opacity="0.96"/>
<rect x="646.45" y="58.34" width="11.2" height="7.96" fill="#ecf5e6" fill-opacity="0.96"/>
<rect x="658.30" y="62.32" width="11.2" height="3.98" fill="#f8faf4" fill-opacity="0.96"/>
<rect x="670.15" y="58.34" width="11.2" height="7.96" fill="#d8ecd2" fill-opacity="0.96"/>
<rect x="682.00" y="60.33" width="11.2" height="5.97" fill="#bcdab6" fill-opacity="0.96"/>
<rect x="693.85" y="62.32" width="11.2" height="3.98" fill="#a6cea0" fill-opacity="0.96"/>
<rect x="729.40" y="62.32" width="11.2" height="3.98" fill="#a6cea0" fill-opacity="0.96"/>
<rect x="741.25" y="58.34" width="11.2" height="7.96" fill="#b0d4aa" fill-opacity="0.96"/>
<rect x="753.10" y="62.32" width="11.2" height="3.98" fill="#b0d4aa" fill-opacity="0.96"/>
<rect x="764.95" y="62.32" width="11.2" height="3.98" fill="#b0d4aa" fill-opacity="0.96"/>
<rect x="776.80" y="62.32" width="11.2" height="3.98" fill="#c6e0c2" fill-opacity="0.96"/>
<rect x="800.50" y="64.31" width="11.2" height="1.99" fill="#e2f2de" fill-opacity="0.96"/>
<rect x="812.35" y="60.33" width="11.2" height="5.97" fill="#f5eeea" fill-opacity="0.96"/>
<rect x="824.20" y="62.32" width="11.2" height="3.98" fill="#d8ecd2" fill-opacity="0.96"/>
<rect x="836.05" y="60.33" width="11.2" height="5.97" fill="#ecf5e6" fill-opacity="0.96"/>
<rect x="847.90" y="56.35" width="11.2" height="9.95" fill="#e0b4b4" fill-opacity="0.96"/>
<rect x="871.60" y="64.31" width="11.2" height="1.99" fill="#ecccd0" fill-opacity="0.96"/>
<rect x="883.45" y="64.31" width="11.2" height="1.99" fill="#ecccd0" fill-opacity="0.96"/>
<rect x="895.30" y="56.35" width="11.2" height="9.95" fill="#ecccd0" fill-opacity="0.96"/>
<rect x="907.15" y="64.31" width="11.2" height="1.99" fill="#dca8b0" fill-opacity="0.96"/>
<polyline points="426.9,40.4 438.8,44.1 450.6,45.3 462.5,45.3 474.3,46.1 486.2,50.7 498.0,54.1 509.9,56.1 521.7,54.6 533.6,54.4 545.4,56.3 557.2,55.5 569.1,54.6 581.0,52.9 592.8,52.1 604.6,53.8 616.5,55.8 628.4,57.2 640.2,58.1 652.1,59.2 663.9,61.2 675.8,62.0 687.6,62.0 699.5,62.6 711.3,62.0 723.1,62.6 735.0,62.9 746.9,62.9 758.7,62.9 770.6,62.6 782.4,62.3 794.2,62.9 806.1,62.6 818.0,61.8 829.8,62.3 841.6,62.0 853.5,62.0 865.4,61.5 877.2,61.8 889.1,62.0 900.9,63.1 912.8,62.3" fill="none" stroke="#a878a8" stroke-opacity="0.5" stroke-width="0.5" stroke-dasharray="1.5 0.8"/>
<text x="426.90" y="50.27" font-size="6" text-anchor="middle" fill="#264646" stroke="#264646" stroke-width="0.22">7</text>
<text x="438.75" y="24.40" font-size="6" text-anchor="middle" fill="#264646" textLength="6.8" lengthAdjust="spacingAndGlyphs" stroke="#264646" stroke-width="0.22">20</text>
<text x="450.60" y="34.35" font-size="6" text-anchor="middle" fill="#264646" textLength="5.1" lengthAdjust="spacingAndGlyphs" stroke="#264646" stroke-width="0.22">15</text>
<text x="462.45" y="50.27" font-size="6" text-anchor="middle" fill="#264646" stroke="#264646" stroke-width="0.22">7</text>
<text x="474.30" y="62.21" font-size="6" text-anchor="middle" fill="#264646" stroke="#264646" stroke-width="0.22">1</text>
<text x="486.15" y="44.30" font-size="6" text-anchor="middle" fill="#264646" textLength="5.1" lengthAdjust="spacingAndGlyphs" stroke="#264646" stroke-width="0.22">10</text>
<text x="498.00" y="36.34" font-size="6" text-anchor="middle" fill="#264646" textLength="5.1" lengthAdjust="spacingAndGlyphs" stroke="#264646" stroke-width="0.22">14</text>
<text x="509.85" y="56.24" font-size="6" text-anchor="middle" fill="#264646" stroke="#264646" stroke-width="0.22">4</text>
<text x="521.70" y="56.24" font-size="6" text-anchor="middle" fill="#264646" stroke="#264646" stroke-width="0.22">4</text>
<text x="533.55" y="58.23" font-size="6" text-anchor="middle" fill="#264646" stroke="#264646" stroke-width="0.22">3</text>
<text x="545.40" y="64.20" font-size="6" text-anchor="middle" fill="#264646" stroke="#264646" stroke-width="0.22">0</text>
<text x="557.25" y="52.26" font-size="6" text-anchor="middle" fill="#264646" stroke="#264646" stroke-width="0.22">6</text>
<text x="569.10" y="42.31" font-size="6" text-anchor="middle" fill="#264646" textLength="3.4" lengthAdjust="spacingAndGlyphs" stroke="#264646" stroke-width="0.22">11</text>
<text x="580.95" y="50.27" font-size="6" text-anchor="middle" fill="#264646" stroke="#264646" stroke-width="0.22">7</text>
<text x="592.80" y="50.27" font-size="6" text-anchor="middle" fill="#264646" stroke="#264646" stroke-width="0.22">7</text>
<text x="604.65" y="50.27" font-size="6" text-anchor="middle" fill="#264646" stroke="#264646" stroke-width="0.22">7</text>
<text x="616.50" y="46.29" font-size="6" text-anchor="middle" fill="#264646" stroke="#264646" stroke-width="0.22">9</text>
<text x="628.35" y="58.23" font-size="6" text-anchor="middle" fill="#264646" stroke="#264646" stroke-width="0.22">3</text>
<text x="640.20" y="64.20" font-size="6" text-anchor="middle" fill="#264646" stroke="#264646" stroke-width="0.22">0</text>
<text x="652.05" y="56.24" font-size="6" text-anchor="middle" fill="#264646" stroke="#264646" stroke-width="0.22">4</text>
<text x="663.90" y="60.22" font-size="6" text-anchor="middle" fill="#264646" stroke="#264646" stroke-width="0.22">2</text>
<text x="675.75" y="56.24" font-size="6" text-anchor="middle" fill="#264646" stroke="#264646" stroke-width="0.22">4</text>
<text x="687.60" y="58.23" font-size="6" text-anchor="middle" fill="#264646" stroke="#264646" stroke-width="0.22">3</text>
<text x="699.45" y="60.22" font-size="6" text-anchor="middle" fill="#264646" stroke="#264646" stroke-width="0.22">2</text>
<text x="711.30" y="64.20" font-size="6" text-anchor="middle" fill="#264646" stroke="#264646" stroke-width="0.22">0</text>
<text x="723.15" y="64.20" font-size="6" text-anchor="middle" fill="#264646" stroke="#264646" stroke-width="0.22">0</text>
<text x="735.00" y="60.22" font-size="6" text-anchor="middle" fill="#264646" stroke="#264646" stroke-width="0.22">2</text>
<text x="746.85" y="56.24" font-size="6" text-anchor="middle" fill="#264646" stroke="#264646" stroke-width="0.22">4</text>
<text x="758.70" y="60.22" font-size="6" text-anchor="middle" fill="#264646" stroke="#264646" stroke-width="0.22">2</text>
<text x="770.55" y="60.22" font-size="6" text-anchor="middle" fill="#264646" stroke="#264646" stroke-width="0.22">2</text>
<text x="782.40" y="60.22" font-size="6" text-anchor="middle" fill="#264646" stroke="#264646" stroke-width="0.22">2</text>
<text x="794.25" y="64.20" font-size="6" text-anchor="middle" fill="#264646" stroke="#264646" stroke-width="0.22">0</text>
<text x="806.10" y="62.21" font-size="6" text-anchor="middle" fill="#264646" stroke="#264646" stroke-width="0.22">1</text>
<text x="817.95" y="58.23" font-size="6" text-anchor="middle" fill="#264646" stroke="#264646" stroke-width="0.22">3</text>
<text x="829.80" y="60.22" font-size="6" text-anchor="middle" fill="#264646" stroke="#264646" stroke-width="0.22">2</text>
<text x="841.65" y="58.23" font-size="6" text-anchor="middle" fill="#264646" stroke="#264646" stroke-width="0.22">3</text>
<text x="853.50" y="54.25" font-size="6" text-anchor="middle" fill="#264646" stroke="#264646" stroke-width="0.22">5</text>
<text x="865.35" y="64.20" font-size="6" text-anchor="middle" fill="#264646" stroke="#264646" stroke-width="0.22">0</text>
<text x="877.20" y="62.21" font-size="6" text-anchor="middle" fill="#264646" stroke="#264646" stroke-width="0.22">1</text>
<text x="889.05" y="62.21" font-size="6" text-anchor="middle" fill="#264646" stroke="#264646" stroke-width="0.22">1</text>
<text x="900.90" y="54.25" font-size="6" text-anchor="middle" fill="#264646" stroke="#264646" stroke-width="0.22">5</text>
<text x="912.75" y="62.21" font-size="6" text-anchor="middle" fill="#264646" stroke="#264646" stroke-width="0.22">1</text>
<rect x="497.70" y="66.3" width="0.6" height="1.6" fill="#667"/>
<text x="498.00" y="73.20" font-size="6" text-anchor="middle" fill="#1c2c2c" textLength="23.7" lengthAdjust="spacingAndGlyphs" stroke="#1c2c2c" stroke-width="0.2">25.5.2021</text>
<rect x="580.65" y="66.3" width="0.6" height="1.6" fill="#667"/>
<text x="580.95" y="73.20" font-size="6" text-anchor="middle" fill="#1c2c2c" textLength="20.0" lengthAdjust="spacingAndGlyphs" stroke="#1c2c2c" stroke-width="0.2">1.6.2021</text>
<rect x="663.60" y="66.3" width="0.6" height="1.6" fill="#667"/>
<text x="663.90" y="73.20" font-size="6" text-anchor="middle" fill="#1c2c2c" textLength="21.0" lengthAdjust="spacingAndGlyphs" stroke="#1c2c2c" stroke-width="0.2">8.6.2021</text>
<rect x="746.55" y="66.3" width="0.6" height="1.6" fill="#667"/>
<text x="746.85" y="73.20" font-size="6" text-anchor="middle" fill="#1c2c2c" textLength="22.0" lengthAdjust="spacingAndGlyphs" stroke="#1c2c2c" stroke-width="0.2">15.6.2021</text>
<rect x="829.50" y="66.3" width="0.6" height="1.6" fill="#667"/>
<text x="829.80" y="73.20" font-size="6" text-anchor="middle" fill="#1c2c2c" textLength="23.8" lengthAdjust="spacingAndGlyphs" stroke="#1c2c2c" stroke-width="0.2">22.6.2021</text>
<rect x="912.45" y="66.3" width="0.6" height="1.6" fill="#667"/>
<text x="912.75" y="73.20" font-size="6" text-anchor="middle" fill="#1c2c2c" textLength="24.0" lengthAdjust="spacingAndGlyphs" stroke="#1c2c2c" stroke-width="0.2">29.6.2021</text>
<rect x="420.8" y="77.0" width="0.6" height="45.3" fill="#9aa89a" fill-opacity="0.8"/>
<rect x="420.8" y="122.1" width="498.5" height="0.9" fill="#a8b0a8" fill-opacity="0.85"/>
<rect x="420.0" y="82.2" width="1.4" height="0.6" fill="#9aa89a"/>
<text x="424.20" y="82.70" font-size="6" fill="#8a7878">33</text>
<rect x="421.30" y="105.42" width="11.2" height="16.88" fill="#c6e0c2" fill-opacity="0.96"/>
<rect x="433.15" y="99.38" width="11.2" height="22.92" fill="#e2f2de" fill-opacity="0.96"/>
<rect x="445.00" y="82.50" width="11.2" height="39.80" fill="#e2f2de" fill-opacity="0.96"/>
<rect x="456.85" y="121.09" width="11.2" height="1.21" fill="#e2f2de" fill-opacity="0.96"/>
<rect x="480.55" y="98.18" width="11.2" height="24.12" fill="#d8ecd2" fill-opacity="0.96"/>
<rect x="492.40" y="94.56" width="11.2" height="27.74" fill="#d8ecd2" fill-opacity="0.96"/>
<rect x="504.25" y="105.42" width="11.2" height="16.88" fill="#ecf5e6" fill-opacity="0.96"/>
<rect x="516.10" y="103.00" width="11.2" height="19.30" fill="#d8ecd2" fill-opacity="0.96"/>
<rect x="527.95" y="106.62" width="11.2" height="15.68" fill="#c6e0c2" fill-opacity="0.96"/>
<rect x="539.80" y="119.89" width="11.2" height="2.41" fill="#c6e0c2" fill-opacity="0.96"/>
<rect x="563.50" y="100.59" width="11.2" height="21.71" fill="#c6e0c2" fill-opacity="0.96"/>
<rect x="575.35" y="99.38" width="11.2" height="22.92" fill="#d8ecd2" fill-opacity="0.96"/>
<rect x="587.20" y="95.77" width="11.2" height="26.53" fill="#d8ecd2" fill-opacity="0.96"/>
<rect x="599.05" y="111.45" width="11.2" height="10.85" fill="#d8ecd2" fill-opacity="0.96"/>
<rect x="610.90" y="96.97" width="11.2" height="25.33" fill="#f5eeea" fill-opacity="0.96"/>
<rect x="646.45" y="100.59" width="11.2" height="21.71" fill="#f5eeea" fill-opacity="0.96"/>
<rect x="658.30" y="109.03" width="11.2" height="13.27" fill="#ecf5e6" fill-opacity="0.96"/>
<rect x="670.15" y="100.59" width="11.2" height="21.71" fill="#d8ecd2" fill-opacity="0.96"/>
<rect x="682.00" y="113.86" width="11.2" height="8.44" fill="#ecf5e6" fill-opacity="0.96"/>
<rect x="693.85" y="107.83" width="11.2" height="14.47" fill="#c6e0c2" fill-opacity="0.96"/>
<rect x="729.40" y="109.03" width="11.2" height="13.27" fill="#bcdab6" fill-opacity="0.96"/>
<rect x="741.25" y="117.48" width="11.2" height="4.82" fill="#bcdab6" fill-opacity="0.96"/>
<rect x="753.10" y="109.03" width="11.2" height="13.27" fill="#b0d4aa" fill-opacity="0.96"/>
<rect x="764.95" y="117.48" width="11.2" height="4.82" fill="#bcdab6" fill-opacity="0.96"/>
<rect x="776.80" y="116.27" width="11.2" height="6.03" fill="#c6e0c2" fill-opacity="0.96"/>
<rect x="812.35" y="115.06" width="11.2" height="7.24" fill="#b0d4aa" fill-opacity="0.96"/>
<rect x="824.20" y="118.68" width="11.2" height="3.62" fill="#c6e0c2" fill-opacity="0.96"/>
<rect x="836.05" y="117.48" width="11.2" height="4.82" fill="#b0d4aa" fill-opacity="0.96"/>
<rect x="847.90" y="115.06" width="11.2" height="7.24" fill="#c6e0c2" fill-opacity="0.96"/>
<rect x="895.30" y="119.89" width="11.2" height="2.41" fill="#bcdab6" fill-opacity="0.96"/>
<rect x="907.15" y="116.27" width="11.2" height="6.03" fill="#c6e0c2" fill-opacity="0.96"/>
<polyline points="426.9,100.6 438.8,104.0 450.6,104.0 462.5,103.3 474.3,103.3 486.2,103.9 498.0,107.3 509.9,107.1 521.7,107.0 533.6,107.3 545.4,108.0 557.2,106.6 569.1,107.8 581.0,106.4 592.8,106.6 604.6,106.8 616.5,106.8 628.4,108.2 640.2,108.9 652.1,109.2 663.9,110.8 675.8,110.8 687.6,110.8 699.5,112.0 711.3,113.2 723.1,114.4 735.0,114.9 746.9,116.1 758.7,116.3 770.6,116.3 782.4,117.1 794.2,117.3 806.1,118.5 818.0,118.2 829.8,119.0 841.6,119.0 853.5,119.0 865.4,119.7 877.2,119.4 889.1,119.7 900.9,120.6 912.8,120.2" fill="none" stroke="#a878a8" stroke-opacity="0.5" stroke-width="0.5" stroke-dasharray="1.5 0.8"/>
<text x="426.90" y="103.32" font-size="6" text-anchor="middle" fill="#264646" textLength="5.1" lengthAdjust="spacingAndGlyphs" stroke="#264646" stroke-width="0.22">14</text>
<text x="438.75" y="97.28" font-size="6" text-anchor="middle" fill="#264646" textLength="5.1" lengthAdjust="spacingAndGlyphs" stroke="#264646" stroke-width="0.22">19</text>
<text x="450.60" y="80.40" font-size="6" text-anchor="middle" fill="#264646" textLength="6.8" lengthAdjust="spacingAndGlyphs" stroke="#264646" stroke-width="0.22">33</text>
<text x="462.45" y="118.99" font-size="6" text-anchor="middle" fill="#264646" stroke="#264646" stroke-width="0.22">1</text>
<text x="474.30" y="120.20" font-size="6" text-anchor="middle" fill="#264646" stroke="#264646" stroke-width="0.22">0</text>
<text x="486.15" y="96.08" font-size="6" text-anchor="middle" fill="#264646" textLength="6.8" lengthAdjust="spacingAndGlyphs" stroke="#264646" stroke-width="0.22">20</text>
<text x="498.00" y="92.46" font-size="6" text-anchor="middle" fill="#264646" textLength="6.8" lengthAdjust="spacingAndGlyphs" stroke="#264646" stroke-width="0.22">23</text>
<text x="509.85" y="103.32" font-size="6" text-anchor="middle" fill="#264646" textLength="5.1" lengthAdjust="spacingAndGlyphs" stroke="#264646" stroke-width="0.22">14</text>
<text x="521.70" y="100.90" font-size="6" text-anchor="middle" fill="#264646" textLength="5.1" lengthAdjust="spacingAndGlyphs" stroke="#264646" stroke-width="0.22">16</text>
<text x="533.55" y="104.52" font-size="6" text-anchor="middle" fill="#264646" textLength="5.1" lengthAdjust="spacingAndGlyphs" stroke="#264646" stroke-width="0.22">13</text>
<text x="545.40" y="117.79" font-size="6" text-anchor="middle" fill="#264646" stroke="#264646" stroke-width="0.22">2</text>
<text x="557.25" y="118.99" font-size="6" text-anchor="middle" fill="#264646" stroke="#264646" stroke-width="0.22">1</text>
<text x="569.10" y="98.49" font-size="6" text-anchor="middle" fill="#264646" textLength="5.1" lengthAdjust="spacingAndGlyphs" stroke="#264646" stroke-width="0.22">18</text>
<text x="580.95" y="97.28" font-size="6" text-anchor="middle" fill="#264646" textLength="5.1" lengthAdjust="spacingAndGlyphs" stroke="#264646" stroke-width="0.22">19</text>
<text x="592.80" y="93.67" font-size="6" text-anchor="middle" fill="#264646" textLength="6.8" lengthAdjust="spacingAndGlyphs" stroke="#264646" stroke-width="0.22">22</text>
<text x="604.65" y="109.35" font-size="6" text-anchor="middle" fill="#264646" stroke="#264646" stroke-width="0.22">9</text>
<text x="616.50" y="94.87" font-size="6" text-anchor="middle" fill="#264646" textLength="5.1" lengthAdjust="spacingAndGlyphs" stroke="#264646" stroke-width="0.22">21</text>
<text x="628.35" y="118.99" font-size="6" text-anchor="middle" fill="#264646" stroke="#264646" stroke-width="0.22">1</text>
<text x="640.20" y="120.20" font-size="6" text-anchor="middle" fill="#264646" stroke="#264646" stroke-width="0.22">0</text>
<text x="652.05" y="98.49" font-size="6" text-anchor="middle" fill="#264646" textLength="5.1" lengthAdjust="spacingAndGlyphs" stroke="#264646" stroke-width="0.22">18</text>
<text x="663.90" y="106.93" font-size="6" text-anchor="middle" fill="#264646" textLength="3.4" lengthAdjust="spacingAndGlyphs" stroke="#264646" stroke-width="0.22">11</text>
<text x="675.75" y="98.49" font-size="6" text-anchor="middle" fill="#264646" textLength="5.1" lengthAdjust="spacingAndGlyphs" stroke="#264646" stroke-width="0.22">18</text>
<text x="687.60" y="111.76" font-size="6" text-anchor="middle" fill="#264646" stroke="#264646" stroke-width="0.22">7</text>
<text x="699.45" y="105.73" font-size="6" text-anchor="middle" fill="#264646" textLength="5.1" lengthAdjust="spacingAndGlyphs" stroke="#264646" stroke-width="0.22">12</text>
<text x="711.30" y="118.99" font-size="6" text-anchor="middle" fill="#264646" stroke="#264646" stroke-width="0.22">1</text>
<text x="723.15" y="120.20" font-size="6" text-anchor="middle" fill="#264646" stroke="#264646" stroke-width="0.22">0</text>
<text x="735.00" y="106.93" font-size="6" text-anchor="middle" fill="#264646" textLength="3.4" lengthAdjust="spacingAndGlyphs" stroke="#264646" stroke-width="0.22">11</text>
<text x="746.85" y="115.38" font-size="6" text-anchor="middle" fill="#264646" stroke="#264646" stroke-width="0.22">4</text>
<text x="758.70" y="106.93" font-size="6" text-anchor="middle" fill="#264646" textLength="3.4" lengthAdjust="spacingAndGlyphs" stroke="#264646" stroke-width="0.22">11</text>
<text x="770.55" y="115.38" font-size="6" text-anchor="middle" fill="#264646" stroke="#264646" stroke-width="0.22">4</text>
<text x="782.40" y="114.17" font-size="6" text-anchor="middle" fill="#264646" stroke="#264646" stroke-width="0.22">5</text>
<text x="794.25" y="120.20" font-size="6" text-anchor="middle" fill="#264646" stroke="#264646" stroke-width="0.22">0</text>
<text x="806.10" y="120.20" font-size="6" text-anchor="middle" fill="#264646" stroke="#264646" stroke-width="0.22">0</text>
<text x="817.95" y="112.96" font-size="6" text-anchor="middle" fill="#264646" stroke="#264646" stroke-width="0.22">6</text>
<text x="829.80" y="116.58" font-size="6" text-anchor="middle" fill="#264646" stroke="#264646" stroke-width="0.22">3</text>
<text x="841.65" y="115.38" font-size="6" text-anchor="middle" fill="#264646" stroke="#264646" stroke-width="0.22">4</text>
<text x="853.50" y="112.96" font-size="6" text-anchor="middle" fill="#264646" stroke="#264646" stroke-width="0.22">6</text>
<text x="865.35" y="120.20" font-size="6" text-anchor="middle" fill="#264646" stroke="#264646" stroke-width="0.22">0</text>
<text x="877.20" y="120.20" font-size="6" text-anchor="middle" fill="#264646" stroke="#264646" stroke-width="0.22">0</text>
<text x="889.05" y="120.20" font-size="6" text-anchor="middle" fill="#264646" stroke="#264646" stroke-width="0.22">0</text>
<text x="900.90" y="117.79" font-size="6" text-anchor="middle" fill="#264646" stroke="#264646" stroke-width="0.22">2</text>
<text x="912.75" y="114.17" font-size="6" text-anchor="middle" fill="#264646" stroke="#264646" stroke-width="0.22">5</text>
<rect x="497.70" y="122.3" width="0.6" height="1.6" fill="#667"/>
<text x="498.00" y="129.20" font-size="6" text-anchor="middle" fill="#1c2c2c" textLength="23.7" lengthAdjust="spacingAndGlyphs" stroke="#1c2c2c" stroke-width="0.2">25.5.2021</text>
<rect x="580.65" y="122.3" width="0.6" height="1.6" fill="#667"/>
<text x="580.95" y="129.20" font-size="6" text-anchor="middle" fill="#1c2c2c" textLength="20.0" lengthAdjust="spacingAndGlyphs" stroke="#1c2c2c" stroke-width="0.2">1.6.2021</text>
<rect x="663.60" y="122.3" width="0.6" height="1.6" fill="#667"/>
<text x="663.90" y="129.20" font-size="6" text-anchor="middle" fill="#1c2c2c" textLength="21.0" lengthAdjust="spacingAndGlyphs" stroke="#1c2c2c" stroke-width="0.2">8.6.2021</text>
<rect x="746.55" y="122.3" width="0.6" height="1.6" fill="#667"/>
<text x="746.85" y="129.20" font-size="6" text-anchor="middle" fill="#1c2c2c" textLength="22.0" lengthAdjust="spacingAndGlyphs" stroke="#1c2c2c" stroke-width="0.2">15.6.2021</text>
<rect x="829.50" y="122.3" width="0.6" height="1.6" fill="#667"/>
<text x="829.80" y="129.20" font-size="6" text-anchor="middle" fill="#1c2c2c" textLength="23.8" lengthAdjust="spacingAndGlyphs" stroke="#1c2c2c" stroke-width="0.2">22.6.2021</text>
<rect x="912.45" y="122.3" width="0.6" height="1.6" fill="#667"/>
<text x="912.75" y="129.20" font-size="6" text-anchor="middle" fill="#1c2c2c" textLength="24.0" lengthAdjust="spacingAndGlyphs" stroke="#1c2c2c" stroke-width="0.2">29.6.2021</text>
<rect x="717.9" y="170.2" width="11.2" height="7.8" fill="#f2f9ee" fill-opacity="0.85"/>
<rect x="420.8" y="133.0" width="0.6" height="45.3" fill="#9aa89a" fill-opacity="0.8"/>
<rect x="420.8" y="178.1" width="498.5" height="0.9" fill="#a8b0a8" fill-opacity="0.85"/>
<rect x="420.0" y="138.2" width="1.4" height="0.6" fill="#9aa89a"/>
<text x="424.20" y="138.70" font-size="6" fill="#8a7878">151</text>
<rect x="421.30" y="152.47" width="11.2" height="25.83" fill="#e2f2de" fill-opacity="0.96"/>
<rect x="433.15" y="152.47" width="11.2" height="25.83" fill="#e2f2de" fill-opacity="0.96"/>
<rect x="445.00" y="145.88" width="11.2" height="32.42" fill="#ecf5e6" fill-opacity="0.96"/>
<rect x="456.85" y="158.80" width="11.2" height="19.50" fill="#e2f2de" fill-opacity="0.96"/>
<rect x="468.70" y="168.81" width="11.2" height="9.49" fill="#e2f2de" fill-opacity="0.96"/>
<rect x="480.55" y="156.16" width="11.2" height="22.14" fill="#d8ecd2" fill-opacity="0.96"/>
<rect x="492.40" y="140.08" width="11.2" height="38.22" fill="#d8ecd2" fill-opacity="0.96"/>
<rect x="504.25" y="144.30" width="11.2" height="34.00" fill="#e2f2de" fill-opacity="0.96"/>
<rect x="516.10" y="152.21" width="11.2" height="26.09" fill="#e2f2de" fill-opacity="0.96"/>
<rect x="527.95" y="142.98" width="11.2" height="35.32" fill="#e2f2de" fill-opacity="0.96"/>
<rect x="539.80" y="164.07" width="11.2" height="14.23" fill="#e2f2de" fill-opacity="0.96"/>
<rect x="551.65" y="169.34" width="11.2" height="8.96" fill="#e2f2de" fill-opacity="0.96"/>
<rect x="563.50" y="149.04" width="11.2" height="29.26" fill="#f5eeea" fill-opacity="0.96"/>
<rect x="575.35" y="138.50" width="11.2" height="39.80" fill="#f5eeea" fill-opacity="0.96"/>
<rect x="587.20" y="156.42" width="11.2" height="21.88" fill="#ecf5e6" fill-opacity="0.96"/>
<rect x="599.05" y="155.37" width="11.2" height="22.93" fill="#ecf5e6" fill-opacity="0.96"/>
<rect x="610.90" y="157.48" width="11.2" height="20.82" fill="#e2f2de" fill-opacity="0.96"/>
<rect x="622.75" y="164.07" width="11.2" height="14.23" fill="#e2f2de" fill-opacity="0.96"/>
<rect x="634.60" y="172.76" width="11.2" height="5.54" fill="#e2f2de" fill-opacity="0.96"/>
<rect x="646.45" y="158.53" width="11.2" height="19.77" fill="#d8ecd2" fill-opacity="0.96"/>
<rect x="658.30" y="154.31" width="11.2" height="23.99" fill="#c6e0c2" fill-opacity="0.96"/>
<rect x="670.15" y="159.85" width="11.2" height="18.45" fill="#d8ecd2" fill-opacity="0.96"/>
<rect x="682.00" y="166.70" width="11.2" height="11.60" fill="#c6e0c2" fill-opacity="0.96"/>
<rect x="693.85" y="166.70" width="11.2" height="11.60" fill="#c6e0c2" fill-opacity="0.96"/>
<rect x="705.70" y="169.87" width="11.2" height="8.43" fill="#bcdab6" fill-opacity="0.96"/>
<rect x="717.55" y="176.72" width="11.2" height="1.58" fill="#ecf5e6" fill-opacity="0.96"/>
<rect x="729.40" y="170.13" width="11.2" height="8.17" fill="#bcdab6" fill-opacity="0.96"/>
<rect x="741.25" y="168.02" width="11.2" height="10.28" fill="#bcdab6" fill-opacity="0.96"/>
<rect x="753.10" y="171.18" width="11.2" height="7.12" fill="#b0d4aa" fill-opacity="0.96"/>
<rect x="764.95" y="171.97" width="11.2" height="6.33" fill="#b0d4aa" fill-opacity="0.96"/>
<rect x="776.80" y="172.24" width="11.2" height="6.06" fill="#b0d4aa" fill-opacity="0.96"/>
<rect x="788.65" y="176.45" width="11.2" height="1.85" fill="#bcdab6" fill-opacity="0.96"/>
<rect x="800.50" y="177.25" width="11.2" height="1.05" fill="#bcdab6" fill-opacity="0.96"/>
<rect x="812.35" y="172.24" width="11.2" height="6.06" fill="#b0d4aa" fill-opacity="0.96"/>
<rect x="824.20" y="175.40" width="11.2" height="2.90" fill="#bcdab6" fill-opacity="0.96"/>
<rect x="836.05" y="175.14" width="11.2" height="3.16" fill="#bcdab6" fill-opacity="0.96"/>
<rect x="847.90" y="175.66" width="11.2" height="2.64" fill="#bcdab6" fill-opacity="0.96"/>
<rect x="859.75" y="177.25" width="11.2" height="1.05" fill="#bcdab6" fill-opacity="0.96"/>
<rect x="871.60" y="177.25" width="11.2" height="1.05" fill="#bcdab6" fill-opacity="0.96"/>
<rect x="895.30" y="175.93" width="11.2" height="2.37" fill="#b0d4aa" fill-opacity="0.96"/>
<rect x="907.15" y="173.82" width="11.2" height="4.48" fill="#bcdab6" fill-opacity="0.96"/>
<polyline points="426.9,151.3 438.8,154.0 450.6,154.9 462.5,153.5 474.3,152.4 486.2,152.3 498.0,151.9 509.9,152.7 521.7,152.7 533.6,151.7 545.4,151.5 557.2,153.2 569.1,153.7 581.0,155.7 592.8,155.7 604.6,156.2 616.5,157.6 628.4,159.8 640.2,160.3 652.1,162.0 663.9,163.3 675.8,164.1 687.6,164.7 699.5,166.3 711.3,168.3 723.1,169.9 735.0,170.7 746.9,171.4 758.7,172.4 770.6,172.5 782.4,172.8 794.2,173.8 806.1,174.4 818.0,174.9 829.8,175.6 841.6,175.7 853.5,175.9 865.4,176.4 877.2,176.2 889.1,176.3 900.9,176.5 912.8,176.3" fill="none" stroke="#a878a8" stroke-opacity="0.5" stroke-width="0.5" stroke-dasharray="1.5 0.8"/>
<text x="426.90" y="150.37" font-size="6" text-anchor="middle" fill="#264646" textLength="6.8" lengthAdjust="spacingAndGlyphs" stroke="#264646" stroke-width="0.22">98</text>
<text x="438.75" y="150.37" font-size="6" text-anchor="middle" fill="#264646" textLength="6.8" lengthAdjust="spacingAndGlyphs" stroke="#264646" stroke-width="0.22">98</text>
<text x="450.60" y="143.78" font-size="6" text-anchor="middle" fill="#264646" textLength="8.5" lengthAdjust="spacingAndGlyphs" stroke="#264646" stroke-width="0.22">123</text>
<text x="462.45" y="156.70" font-size="6" text-anchor="middle" fill="#264646" textLength="6.8" lengthAdjust="spacingAndGlyphs" stroke="#264646" stroke-width="0.22">74</text>
<text x="474.30" y="166.71" font-size="6" text-anchor="middle" fill="#264646" textLength="6.8" lengthAdjust="spacingAndGlyphs" stroke="#264646" stroke-width="0.22">36</text>
<text x="486.15" y="154.06" font-size="6" text-anchor="middle" fill="#264646" textLength="6.8" lengthAdjust="spacingAndGlyphs" stroke="#264646" stroke-width="0.22">84</text>
<text x="498.00" y="137.98" font-size="6" text-anchor="middle" fill="#264646" textLength="8.5" lengthAdjust="spacingAndGlyphs" stroke="#264646" stroke-width="0.22">145</text>
<text x="509.85" y="142.20" font-size="6" text-anchor="middle" fill="#264646" textLength="8.5" lengthAdjust="spacingAndGlyphs" stroke="#264646" stroke-width="0.22">129</text>
<text x="521.70" y="150.11" font-size="6" text-anchor="middle" fill="#264646" textLength="6.8" lengthAdjust="spacingAndGlyphs" stroke="#264646" stroke-width="0.22">99</text>
<text x="533.55" y="140.88" font-size="6" text-anchor="middle" fill="#264646" textLength="8.5" lengthAdjust="spacingAndGlyphs" stroke="#264646" stroke-width="0.22">134</text>
<text x="545.40" y="161.97" font-size="6" text-anchor="middle" fill="#264646" textLength="6.8" lengthAdjust="spacingAndGlyphs" stroke="#264646" stroke-width="0.22">54</text>
<text x="557.25" y="167.24" font-size="6" text-anchor="middle" fill="#264646" textLength="6.8" lengthAdjust="spacingAndGlyphs" stroke="#264646" stroke-width="0.22">34</text>
<text x="569.10" y="146.94" font-size="6" text-anchor="middle" fill="#264646" textLength="5.1" lengthAdjust="spacingAndGlyphs" stroke="#264646" stroke-width="0.22">111</text>
<text x="580.95" y="136.40" font-size="6" text-anchor="middle" fill="#264646" textLength="6.8" lengthAdjust="spacingAndGlyphs" stroke="#264646" stroke-width="0.22">151</text>
<text x="592.80" y="154.32" font-size="6" text-anchor="middle" fill="#264646" textLength="6.8" lengthAdjust="spacingAndGlyphs" stroke="#264646" stroke-width="0.22">83</text>
<text x="604.65" y="153.27" font-size="6" text-anchor="middle" fill="#264646" textLength="6.8" lengthAdjust="spacingAndGlyphs" stroke="#264646" stroke-width="0.22">87</text>
<text x="616.50" y="155.38" font-size="6" text-anchor="middle" fill="#264646" textLength="6.8" lengthAdjust="spacingAndGlyphs" stroke="#264646" stroke-width="0.22">79</text>
<text x="628.35" y="161.97" font-size="6" text-anchor="middle" fill="#264646" textLength="6.8" lengthAdjust="spacingAndGlyphs" stroke="#264646" stroke-width="0.22">54</text>
<text x="640.20" y="170.66" font-size="6" text-anchor="middle" fill="#264646" textLength="5.1" lengthAdjust="spacingAndGlyphs" stroke="#264646" stroke-width="0.22">21</text>
<text x="652.05" y="156.43" font-size="6" text-anchor="middle" fill="#264646" textLength="6.8" lengthAdjust="spacingAndGlyphs" stroke="#264646" stroke-width="0.22">75</text>
<text x="663.90" y="152.21" font-size="6" text-anchor="middle" fill="#264646" textLength="5.1" lengthAdjust="spacingAndGlyphs" stroke="#264646" stroke-width="0.22">91</text>
<text x="675.75" y="157.75" font-size="6" text-anchor="middle" fill="#264646" textLength="6.8" lengthAdjust="spacingAndGlyphs" stroke="#264646" stroke-width="0.22">70</text>
<text x="687.60" y="164.60" font-size="6" text-anchor="middle" fill="#264646" textLength="6.8" lengthAdjust="spacingAndGlyphs" stroke="#264646" stroke-width="0.22">44</text>
<text x="699.45" y="164.60" font-size="6" text-anchor="middle" fill="#264646" textLength="6.8" lengthAdjust="spacingAndGlyphs" stroke="#264646" stroke-width="0.22">44</text>
<text x="711.30" y="167.77" font-size="6" text-anchor="middle" fill="#264646" textLength="6.8" lengthAdjust="spacingAndGlyphs" stroke="#264646" stroke-width="0.22">32</text>
<text x="723.15" y="174.62" font-size="6" text-anchor="middle" fill="#264646" stroke="#264646" stroke-width="0.22">6</text>
<text x="735.00" y="168.03" font-size="6" text-anchor="middle" fill="#264646" textLength="5.1" lengthAdjust="spacingAndGlyphs" stroke="#264646" stroke-width="0.22">31</text>
<text x="746.85" y="165.92" font-size="6" text-anchor="middle" fill="#264646" textLength="6.8" lengthAdjust="spacingAndGlyphs" stroke="#264646" stroke-width="0.22">39</text>
<text x="758.70" y="169.08" font-size="6" text-anchor="middle" fill="#264646" textLength="6.8" lengthAdjust="spacingAndGlyphs" stroke="#264646" stroke-width="0.22">27</text>
<text x="770.55" y="169.87" font-size="6" text-anchor="middle" fill="#264646" textLength="6.8" lengthAdjust="spacingAndGlyphs" stroke="#264646" stroke-width="0.22">24</text>
<text x="782.40" y="170.14" font-size="6" text-anchor="middle" fill="#264646" textLength="6.8" lengthAdjust="spacingAndGlyphs" stroke="#264646" stroke-width="0.22">23</text>
<text x="794.25" y="174.35" font-size="6" text-anchor="middle" fill="#264646" stroke="#264646" stroke-width="0.22">7</text>
<text x="806.10" y="175.15" font-size="6" text-anchor="middle" fill="#264646" stroke="#264646" stroke-width="0.22">4</text>
<text x="817.95" y="170.14" font-size="6" text-anchor="middle" fill="#264646" textLength="6.8" lengthAdjust="spacingAndGlyphs" stroke="#264646" stroke-width="0.22">23</text>
<text x="829.80" y="173.30" font-size="6" text-anchor="middle" fill="#264646" textLength="3.4" lengthAdjust="spacingAndGlyphs" stroke="#264646" stroke-width="0.22">11</text>
<text x="841.65" y="173.04" font-size="6" text-anchor="middle" fill="#264646" textLength="5.1" lengthAdjust="spacingAndGlyphs" stroke="#264646" stroke-width="0.22">12</text>
<text x="853.50" y="173.56" font-size="6" text-anchor="middle" fill="#264646" textLength="5.1" lengthAdjust="spacingAndGlyphs" stroke="#264646" stroke-width="0.22">10</text>
<text x="865.35" y="175.15" font-size="6" text-anchor="middle" fill="#264646" stroke="#264646" stroke-width="0.22">4</text>
<text x="877.20" y="175.15" font-size="6" text-anchor="middle" fill="#264646" stroke="#264646" stroke-width="0.22">4</text>
<text x="889.05" y="175.94" font-size="6" text-anchor="middle" fill="#264646" stroke="#264646" stroke-width="0.22">1</text>
<text x="900.90" y="173.83" font-size="6" text-anchor="middle" fill="#264646" stroke="#264646" stroke-width="0.22">9</text>
<text x="912.75" y="171.72" font-size="6" text-anchor="middle" fill="#264646" textLength="5.1" lengthAdjust="spacingAndGlyphs" stroke="#264646" stroke-width="0.22">17</text>
<rect x="497.70" y="178.3" width="0.6" height="1.6" fill="#667"/>
<text x="498.00" y="185.20" font-size="6" text-anchor="middle" fill="#1c2c2c" textLength="23.7" lengthAdjust="spacingAndGlyphs" stroke="#1c2c2c" stroke-width="0.2">25.5.2021</text>
<rect x="580.65" y="178.3" width="0.6" height="1.6" fill="#667"/>
<text x="580.95" y="185.20" font-size="6" text-anchor="middle" fill="#1c2c2c" textLength="20.0" lengthAdjust="spacingAndGlyphs" stroke="#1c2c2c" stroke-width="0.2">1.6.2021</text>
<rect x="663.60" y="178.3" width="0.6" height="1.6" fill="#667"/>
<text x="663.90" y="185.20" font-size="6" text-anchor="middle" fill="#1c2c2c" textLength="21.0" lengthAdjust="spacingAndGlyphs" stroke="#1c2c2c" stroke-width="0.2">8.6.2021</text>
<rect x="746.55" y="178.3" width="0.6" height="1.6" fill="#667"/>
<text x="746.85" y="185.20" font-size="6" text-anchor="middle" fill="#1c2c2c" textLength="22.0" lengthAdjust="spacingAndGlyphs" stroke="#1c2c2c" stroke-width="0.2">15.6.2021</text>
<rect x="829.50" y="178.3" width="0.6" height="1.6" fill="#667"/>
<text x="829.80" y="185.20" font-size="6" text-anchor="middle" fill="#1c2c2c" textLength="23.8" lengthAdjust="spacingAndGlyphs" stroke="#1c2c2c" stroke-width="0.2">22.6.2021</text>
<rect x="912.45" y="178.3" width="0.6" height="1.6" fill="#667"/>
<text x="912.75" y="185.20" font-size="6" text-anchor="middle" fill="#1c2c2c" textLength="24.0" lengthAdjust="spacingAndGlyphs" stroke="#1c2c2c" stroke-width="0.2">29.6.2021</text>
<rect x="3.1" y="534.5" width="24.4" height="15.4" fill="#0a3a9c"/>
<circle cx="20.60" cy="542.20" r="0.7" fill="#d8c050"/>
<circle cx="19.89" cy="544.85" r="0.7" fill="#d8c050"/>
<circle cx="17.95" cy="546.79" r="0.7" fill="#d8c050"/>
<circle cx="15.30" cy="547.50" r="0.7" fill="#d8c050"/>
<circle cx="12.65" cy="546.79" r="0.7" fill="#d8c050"/>
<circle cx="10.71" cy="544.85" r="0.7" fill="#d8c050"/>
<circle cx="10.00" cy="542.20" r="0.7" fill="#d8c050"/>
<circle cx="10.71" cy="539.55" r="0.7" fill="#d8c050"/>
<circle cx="12.65" cy="537.61" r="0.7" fill="#d8c050"/>
<circle cx="15.30" cy="536.90" r="0.7" fill="#d8c050"/>
<circle cx="17.95" cy="537.61" r="0.7" fill="#d8c050"/>
<circle cx="19.89" cy="539.55" r="0.7" fill="#d8c050"/>
<rect x="30.0" y="552.9" width="24.1" height="5.27" fill="#ffffff"/>
<rect x="30.0" y="558.17" width="24.1" height="5.27" fill="#0000ff"/>
<rect x="30.0" y="563.43" width="24.1" height="5.27" fill="#ff0000"/>
<path d="M32.07,554.64 H39.02 V559.85 L35.54,562.63 L32.07,559.85 Z" fill="#1030d0"/>
<circle cx="35.54" cy="559.16" r="1.56" fill="#ffffff"/>
</svg>
</body></html>
